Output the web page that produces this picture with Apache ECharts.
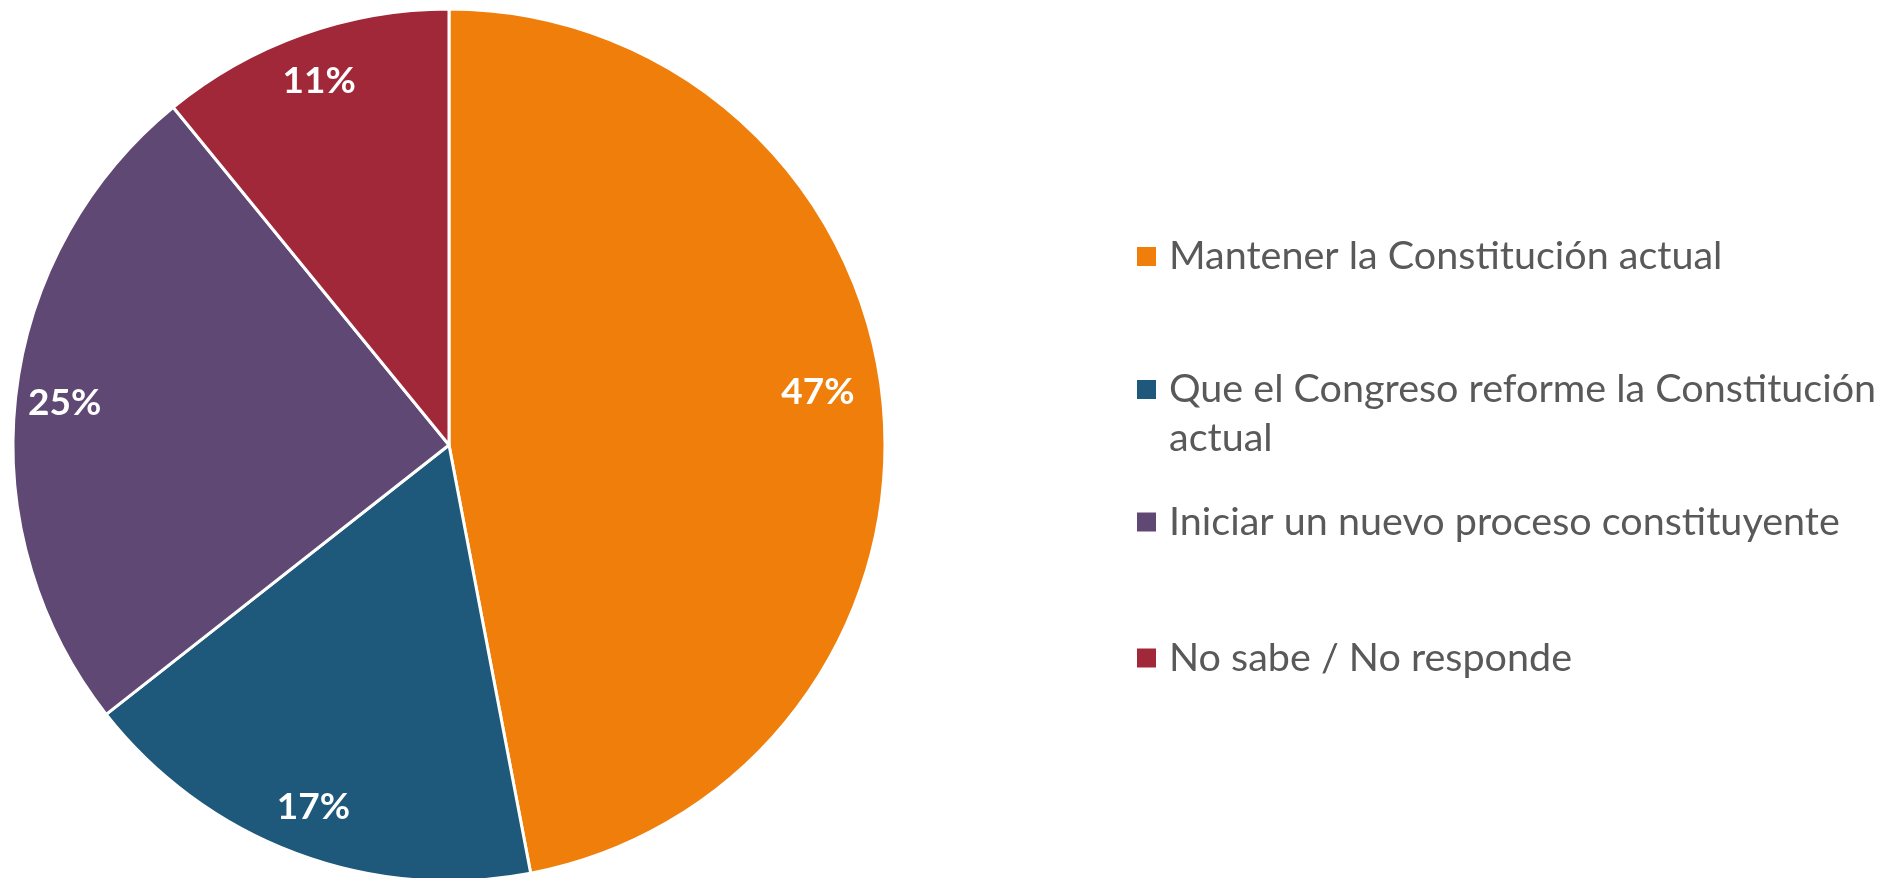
<!DOCTYPE html>
<html>
<head>
<meta charset="utf-8">
<script src="https://cdn.jsdelivr.net/npm/echarts@6/dist/echarts.min.js"></script>
<style>
  html, body { margin: 0; padding: 0; background: #ffffff; }
  #chart { width: 1893px; height: 878px; }
</style>
</head>
<body>
<div id="chart"></div>
<script>
const categories = [
  'Mantener la Constitución actual',
  'Que el Congreso reforme la Constitución actual',
  'Iniciar un nuevo proceso constituyente',
  'No sabe / No responde'
];
const values = [47.0, 17.4, 24.7, 10.9];
const colors = ['#EF7F0A', '#1E587A', '#604874', '#A02838'];
const legendCenters = [256.5, 389.5, 522, 658];

const chart = echarts.init(document.getElementById('chart'), null, { renderer: 'canvas' });

const CX = 449, CY = 445, R = 436;
const FONT = 'Lato, "Open Sans", sans-serif';
const LH = 49;

const mainData = categories.map((n, i) => ({ name: n, value: values[i], itemStyle: { color: colors[i] } }));
const labelData = categories.map((n, i) => ({ name: n, value: values[i], itemStyle: { color: 'rgba(0,0,0,0)' } }));

const legends = categories.map((n, i) => {
  const multi = i === 1;
  const h = multi ? LH * 3 : LH;
  return {
    orient: 'vertical',
    left: 1137,
    top: legendCenters[i] - h / 2,
    padding: 0,
    itemWidth: 19,
    itemHeight: 19,
    itemGap: 0,
    icon: 'rect',
    selectedMode: false,
    itemStyle: { borderWidth: 0 },
    data: [n],
    formatter: multi ? function (name) { return '\nQue el Congreso reforme la Constitución\nactual'; } : undefined,
    textStyle: {
      fontFamily: FONT,
      fontSize: 39.5,
      color: '#595959',
      lineHeight: LH,
      padding: [0, 0, 0, 8]
    }
  };
});

chart.setOption({
  animation: false,
  backgroundColor: '#ffffff',
  legend: legends,
  series: [
    {
      type: 'pie',
      center: [CX, CY],
      radius: [0, R],
      startAngle: 90,
      clockwise: true,
      silent: true,
      label: { show: false },
      labelLine: { show: false },
      itemStyle: { borderColor: '#ffffff', borderWidth: 3 },
      emphasis: { disabled: true },
      data: mainData
    },
    {
      type: 'pie',
      center: [CX, CY],
      radius: [R * 0.76, R],
      startAngle: 90,
      clockwise: true,
      silent: true,
      z: 3,
      itemStyle: { borderWidth: 0 },
      emphasis: { disabled: true },
      labelLine: { show: false },
      label: {
        show: true,
        position: 'inside',
        formatter: function (p) { return Math.round(p.value) + '%'; },
        color: '#ffffff',
        fontFamily: FONT,
        fontWeight: 'bold',
        fontSize: 37
      },
      labelLayout: function (p) {
        if (p.dataIndex === 0) return { dx: -16, dy: -17 };
        return {};
      },
      data: labelData
    }
  ]
});
</script>
</body>
</html>
